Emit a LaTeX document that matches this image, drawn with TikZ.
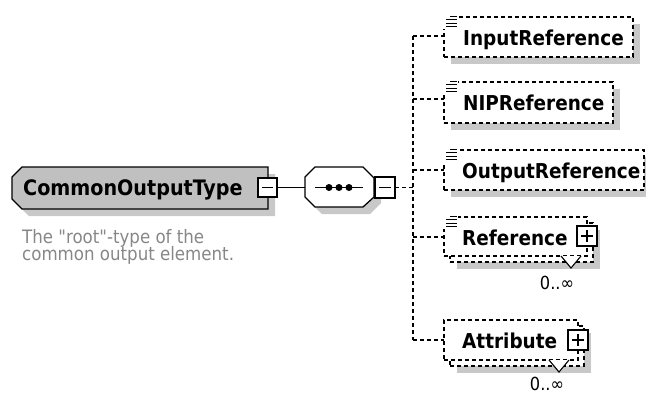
\documentclass[tikz,border=0pt]{standalone}
\usepackage{fontspec}
\setmainfont{DejaVu Sans Condensed}
% plain family without TeX ligatures, so that " stays a straight quote
\newfontfamily\capfont{DejaVu Sans Condensed}
\definecolor{shadowgray}{RGB}{200,200,200}
\definecolor{typegray}{RGB}{192,192,192}
\definecolor{captiongray}{RGB}{135,135,135}
\tikzset{
  elbox/.style={draw=black, fill=white, line width=1.2pt, dash pattern=on 4pt off 3pt,
    inner sep=0pt, outer sep=0pt, anchor=north west},
  conn/.style={line width=1.2pt, dash pattern=on 4pt off 3pt},
  btn/.style={draw=black, fill=white, line width=1.1pt, inner sep=0pt, outer sep=0pt},
  elname/.style={font=\bfseries\fontsize{20.5pt}{24pt}\selectfont, anchor=base west, inner sep=0pt},
  typename/.style={font=\bfseries\fontsize{21.3pt}{24pt}\selectfont, anchor=base west, inner sep=0pt},
  caption/.style={font=\capfont\fontsize{18.5pt}{22pt}\selectfont, text=captiongray, anchor=base west, inner sep=0pt},
  occurs/.style={font=\fontsize{18pt}{22pt}\selectfont, inner sep=0pt},
  contenticon/.pic={
    \fill[white] (-1,-4) rectangle (14,12);
    \draw[line width=1pt] (6,-1) -- (13,-1) (2,2.5) -- (13,2.5) (2,6) -- (13,6) (2,9.5) -- (13,9.5);
  },
  minusmark/.style={line width=1.1pt},
}
\begin{document}
\begin{tikzpicture}[x=1pt,y=-1pt]
\useasboundingbox (0,0) rectangle (646,394);

% ---- complex type CommonOutputType ----
\fill[shadowgray] (29,174) -- (275,174) -- (275,216) -- (29,216) -- (19,206) -- (19,184) -- cycle;
\draw[line width=1.3pt, fill=typegray] (22,167) -- (268,167) -- (268,209) -- (22,209) -- (12,199) -- (12,177) -- cycle;
\node[typename] (ctname) at (23,195) {CommonOutputType};
\node[btn, minimum width=19pt, minimum height=19pt] (ctbtn) at (267.5,187.5) {};
\draw[minusmark] ([xshift=4pt]ctbtn.west) -- ([xshift=-4pt]ctbtn.east);
\node[caption] (cap1) at (22,243) {The "root"-type of the};
\node[caption] (cap2) at (22,260) {common output element.};

% ---- sequence compositor ----
\fill[shadowgray] (312,184) -- (322,174) -- (370,174) -- (381,185) -- (381,203) -- (370,214) -- (322,214) -- (312,204) -- cycle;
\draw[line width=1.3pt, fill=white] (305,177) -- (315,167) -- (363,167) -- (374,178) -- (374,197) -- (363,207) -- (315,207) -- (305,197) -- cycle;
\coordinate (seqin) at (305,187.5);
\draw[line width=1.2pt] (315,187.5) -- (363,187.5);
\foreach \dx in {329,339,349} \fill (\dx,187.5) circle (3.5pt);
\node[btn, minimum width=20pt, minimum height=21pt] (seqbtn) at (385,187.5) {};
\draw[minusmark] ([xshift=4pt]seqbtn.west) -- ([xshift=-4pt]seqbtn.east);
\draw[line width=1.2pt] (ctbtn.east) -- (seqin);

% ---- child elements ----
% InputReference
\fill[shadowgray] (451,24) rectangle (640,64);
\node[elbox, minimum width=189pt, minimum height=40pt] (inref) at (444,17) {};
\pic at (inref.north west) {contenticon};
\node[elname] (inreft) at (463,45) {InputReference};

% NIPReference
\fill[shadowgray] (451,89) rectangle (620,130);
\node[elbox, minimum width=169pt, minimum height=41pt] (nip) at (444,82) {};
\pic at (nip.north west) {contenticon};
\node[elname] (nipt) at (463,110) {NIPReference};

% OutputReference
\fill[shadowgray] (451,157) rectangle (652,197);
\node[elbox, minimum width=200pt, minimum height=40pt] (outref) at (444,150) {};
\pic at (outref.north west) {contenticon};
\node[elname] (outreft) at (462,178) {OutputReference};

% Reference (0..unbounded)
\fill[shadowgray] (457,230) rectangle (600,269);
\node[elbox, minimum width=143pt, minimum height=39pt] (refback) at (450,223) {};
\node[elbox, minimum width=143pt, minimum height=39pt] (ref) at (444,217) {};
\pic at (ref.north west) {contenticon};
\node[elname] (reft) at (462,245) {Reference};
\node[btn, minimum width=20pt, minimum height=20pt] (refbtn) at (587,236) {};
\draw[minusmark] ([xshift=4pt]refbtn.west) -- ([xshift=-4pt]refbtn.east)
  ([yshift=4pt]refbtn.south) -- ([yshift=-4pt]refbtn.north);
\draw[line width=1.1pt, fill=white] (561,256) -- (571,268) -- (581,256);
\node[occurs] (refocc) at (557,283) {0..∞};

% Attribute (0..unbounded)
\fill[shadowgray] (457,333) rectangle (591,373);
\node[elbox, minimum width=134pt, minimum height=40pt] (attback) at (450,326) {};
\node[elbox, minimum width=134pt, minimum height=40pt] (att) at (444,320) {};
\node[elname] (attt) at (462,348) {Attribute};
\node[btn, minimum width=20pt, minimum height=20pt] (attbtn) at (578,340) {};
\draw[minusmark] ([xshift=4pt]attbtn.west) -- ([xshift=-4pt]attbtn.east)
  ([yshift=4pt]attbtn.south) -- ([yshift=-4pt]attbtn.north);
\draw[line width=1.1pt, fill=white] (549,360) -- (559,372) -- (569,360);
\node[occurs] (attocc) at (547,383.5) {0..∞};

% ---- connectors from the sequence to its children ----
\coordinate (bartop) at (413,36);
\coordinate (barbot) at (413,340);
\draw[conn] (seqbtn.east) -- (seqbtn.east -| bartop);
\draw[conn] (bartop) -- (barbot);
\draw[conn] (bartop) -- (bartop -| inref.west);
\coordinate (jnip) at (413,99);
\draw[conn] (jnip) -- (jnip -| nip.west);
\coordinate (jout) at (413,170);
\draw[conn] (jout) -- (jout -| outref.west);
\coordinate (jref) at (413,237);
\draw[conn] (jref) -- (jref -| ref.west);
\draw[conn] (barbot) -- (barbot -| att.west);
\end{tikzpicture}
\end{document}
